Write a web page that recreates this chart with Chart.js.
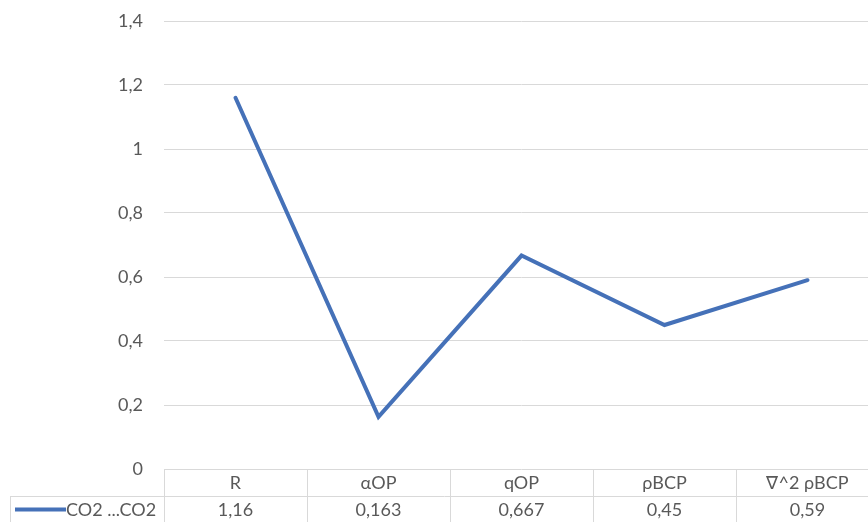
<!DOCTYPE html>
<html>
<head>
<meta charset="utf-8">
<script src="https://cdn.jsdelivr.net/npm/chart.js@4/dist/chart.umd.min.js"></script>
<style>
  html, body { margin: 0; padding: 0; background: #ffffff; overflow: hidden; }
  #wrap { width: 868px; height: 522px; overflow: hidden; }
  canvas { display: block; }
</style>
</head>
<body>
<div id="wrap"><canvas id="c" width="880" height="522"></canvas></div>
<script>
// Parameters of the bond critical point analysis
const categories = ['R', 'αOP', 'qOP', 'ρBCP', '∇^2 ρBCP'];
const seriesName = 'CO2 ...CO2';
const values = [1.16, 0.163, 0.667, 0.45, 0.59];
const valueLabels = ['1,16', '0,163', '0,667', '0,45', '0,59'];
const yTicks = [0, 0.2, 0.4, 0.6, 0.8, 1, 1.2, 1.4];

const LINE = '#4571b8';
const GRID = '#d9d9d9';
const TEXT = '#595959';
const FONT = 'Lato, "Open Sans", sans-serif';
const FONT_SIZE = 18;

const fmt = v => String(Math.round(v * 10) / 10).replace('.', ',');

// Data table underneath the plot: category header row and value row with legend key
const dataTable = {
  id: 'dataTable',
  afterDraw(chart) {
    const ctx = chart.ctx;
    const x = chart.scales.x;
    const area = chart.chartArea;
    const top = area.bottom;
    const rowH = 27;
    const mid = top + rowH;
    const bottom = top + 2 * rowH;
    const n = categories.length;
    const step = (area.right - area.left) / n;
    ctx.save();
    ctx.strokeStyle = GRID;
    ctx.lineWidth = 1;
    ctx.beginPath();
    // row separator, spanning the legend cell too
    ctx.moveTo(10, mid + 0.5);
    ctx.lineTo(area.right, mid + 0.5);
    // legend cell left border
    ctx.moveTo(10.5, mid);
    ctx.lineTo(10.5, bottom);
    // column borders
    for (let i = 0; i <= n; i++) {
      const bx = Math.round(x.getPixelForValue(i) - step / 2) + 0.5;
      ctx.moveTo(bx, top);
      ctx.lineTo(bx, bottom);
    }
    ctx.stroke();

    ctx.fillStyle = TEXT;
    ctx.font = FONT_SIZE + 'px ' + FONT;
    ctx.textAlign = 'center';
    ctx.textBaseline = 'middle';
    categories.forEach((c, i) => {
      const cx = x.getPixelForValue(i);
      ctx.fillText(c, cx, top + rowH / 2 + 1);
      ctx.fillText(valueLabels[i], cx, mid + rowH / 2 + 1);
    });

    // legend key
    ctx.strokeStyle = LINE;
    ctx.lineWidth = 4;
    ctx.lineCap = 'butt';
    ctx.beginPath();
    ctx.moveTo(15, mid + rowH / 2);
    ctx.lineTo(66, mid + rowH / 2);
    ctx.stroke();
    ctx.textAlign = 'left';
    ctx.fillText(seriesName, 66, mid + rowH / 2 + 1);
    ctx.restore();
  }
};

new Chart(document.getElementById('c'), {
  type: 'line',
  data: {
    labels: categories,
    datasets: [{
      label: seriesName,
      data: values,
      borderColor: LINE,
      backgroundColor: LINE,
      borderWidth: 4,
      borderCapStyle: 'round',
      borderJoinStyle: 'miter',
      tension: 0,
      pointRadius: 0,
      fill: false
    }]
  },
  options: {
    responsive: false,
    animation: false,
    layout: { padding: { top: 21, right: 1, bottom: 0, left: 0 } },
    plugins: { legend: { display: false }, tooltip: { enabled: false } },
    scales: {
      x: {
        offset: true,
        grid: { display: false },
        border: { display: false },
        ticks: { display: false },
        afterFit(scale) { scale.height = 53; }
      },
      y: {
        min: 0,
        max: 1.4,
        afterBuildTicks(scale) { scale.ticks = yTicks.map(v => ({ value: v })); },
        grid: { color: GRID, lineWidth: 1, drawTicks: false },
        border: { display: false },
        ticks: {
          color: TEXT,
          font: { family: FONT, size: FONT_SIZE },
          padding: 21,
          callback: v => fmt(v)
        },
        afterFit(scale) {
          scale.width = 164;
          // only half a label of room is needed above the top tick
          scale.paddingTop = 11;
          scale.paddingBottom = 11;
        }
      }
    }
  },
  plugins: [dataTable]
});
</script>
</body>
</html>
